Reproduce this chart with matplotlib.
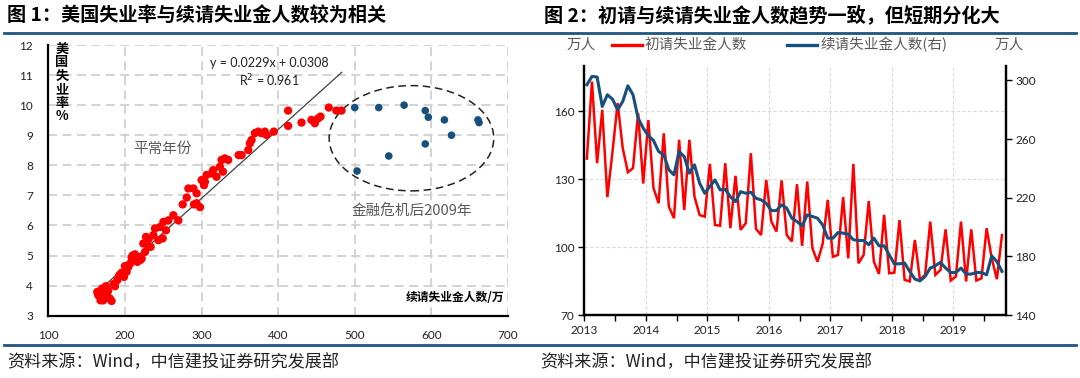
import matplotlib
matplotlib.use("Agg")
import matplotlib.pyplot as plt
from matplotlib.patches import Ellipse
from matplotlib.lines import Line2D
import numpy as np

# ---------------- data ----------------
# Figure 1: continuing claims (万人) vs unemployment rate (%)
normal_x = [163.9, 165.2, 168.2, 171.7, 172.5, 175.1, 176.9, 180.4, 182.6, 178.2,
            170.0, 185.0, 187.0, 190.0, 192.7, 195.7, 198.7, 200.0, 202.2, 204.4,
            206.6, 208.8, 210.0, 211.0, 213.2, 216.2, 218.8, 220.0, 221.9, 224.0,
            226.2, 227.5, 230.6, 231.0, 233.6, 237.1, 239.3, 243.6, 246.0, 249.3,
            250.2, 253.6, 256.7, 263.2, 269.7, 275.4, 280.7, 282.8, 289.4, 290.2,
            293.6, 293.6, 298.0, 300.1, 303.2, 304.4, 306.6, 313.1, 315.2, 319.6,
            323.9, 326.2, 328.0, 330.5, 334.8, 348.4, 352.3, 361.0, 363.1, 365.3,
            369.6, 373.9, 378.3, 382.6, 384.9, 394.4, 413.0, 413.0, 430.5, 443.5,
            447.9, 452.2, 455.3, 466.1, 476.1, 482.7]
normal_y = [3.79, 3.68, 3.51, 3.51, 3.73, 3.98, 3.65, 3.57, 3.49, 3.83,
            3.90, 4.05, 3.98, 4.18, 4.35, 4.43, 4.29, 4.65, 4.46, 4.62,
            4.73, 4.93, 5.00, 4.84, 5.04, 4.79, 4.95, 4.85, 4.90, 5.40,
            5.12, 5.62, 5.29, 5.55, 5.29, 5.68, 5.90, 5.51, 5.95, 5.57,
            6.12, 5.84, 6.17, 6.34, 6.17, 6.70, 6.93, 7.23, 7.23, 6.70,
            7.07, 6.74, 6.61, 7.51, 7.34, 7.45, 7.68, 7.73, 7.84, 7.62,
            7.95, 8.18, 7.79, 8.23, 8.18, 8.34, 8.34, 8.51, 8.73, 8.84,
            9.07, 9.12, 9.07, 9.12, 9.01, 9.12, 9.82, 9.31, 9.42, 9.51,
            9.40, 9.56, 9.62, 9.92, 9.82, 9.82]
crisis_x = [500.0, 531.3, 564.4, 592.0, 596.0, 617.0, 626.2, 592.0, 544.4, 503.0, 660.8, 662.2]
crisis_y = [9.92, 9.92, 10.00, 9.82, 9.60, 9.51, 9.00, 8.71, 8.31, 7.81, 9.51, 9.42]
fit_slope, fit_intercept = 0.0229, 0.0308
fit_range = [165, 483]

# Figure 2: monthly series Jan 2013 - Oct 2019
start_year = 2013
initial_claims = [139, 173, 137, 160.5, 122, 142, 163.5, 143.6, 133, 134.8, 159, 128,
                  156, 126, 119.3, 150.2, 117.8, 112.7, 147.3, 116.3, 147.3, 122.2, 114.1, 113.4,
                  136.7, 109.7, 109.4, 137, 108.3, 131.4, 107.6, 110.5, 141.4, 108, 105.3, 129.6,
                  111.2, 106.8, 129.4, 105.3, 102.4, 127.7, 100.5, 128.9, 99.5, 93.5, 101.3, 120.8,
                  95.7, 96.5, 122, 95, 136.7, 92.8, 96.5, 120.3, 93.5, 88.1, 114.2, 88.4,
                  88.7, 111.9, 85.5, 84.8, 103.1, 85.5, 87.7, 111.2, 87.7, 89.9, 107.8, 85.2,
                  87, 111.2, 84.8, 107.8, 85.2, 86.2, 108.3, 95, 85.8, 105.3]
continuing_claims = [297, 302.7, 302.3, 282.2, 290.2, 287.2, 279.9, 285.6, 296.3, 290.2, 274.3, 267.4,
                     262.2, 259, 251.5, 249.2, 239, 235.6, 251.5, 248, 236.7, 242.4, 229.9, 223,
                     227.6, 232.1, 225.3, 225.7, 220.7, 217.3, 224.1, 223, 223.7, 219.6, 218.5, 216.2,
                     211.2, 211.2, 215.1, 212.8, 206, 203.7, 200.8, 208.3, 207.2, 206, 201.5, 192.4,
                     192.4, 196.2, 195.8, 195.1, 191.3, 190.8, 190.8, 187.9, 192.4, 187.2, 187.2, 181,
                     174.9, 174.9, 175.4, 169.7, 164.5, 163.3, 166.3, 172, 173.6, 175.9, 172, 169,
                     169, 172, 167.9, 167.9, 169, 169, 167.4, 180.3, 176.5, 169.7]
years = [2013, 2014, 2015, 2016, 2017, 2018, 2019]
left_ticks2 = [70, 100, 130, 160]
right_ticks2 = [140, 180, 220, 260, 300]

# ---------------- style ----------------
W, H = 1080, 378
CJK = ['Noto Sans CJK SC', 'DejaVu Sans']
NUM = ['Lato', 'Noto Sans CJK SC', 'DejaVu Sans']
plt.rcParams['font.family'] = NUM
RED = '#FF0000'
BLUE = '#17507D'
RULE = '#1F5582'
GRAYTXT = '#595959'

fig = plt.figure(figsize=(W / 100, H / 100), dpi=100)

def fx(px):
    return px / W

def fy(py):
    return 1 - py / H

# title rules & titles
for yy in (32.5, 344.5):
    fig.add_artist(Line2D([fx(4), fx(1076)], [fy(yy), fy(yy)], color=RULE, lw=2.0))
fig.text(fx(7), fy(15), '图 1：美国失业率与续请失业金人数较为相关', family=CJK,
         fontsize=13.8, fontweight='bold', va='center', ha='left', color='black')
fig.text(fx(544), fy(15), '图 2：初请与续请失业金人数趋势一致，但短期分化大', family=CJK,
         fontsize=13.8, fontweight='bold', va='center', ha='left', color='black')
for xx in (7, 540):
    fig.text(fx(xx), fy(362), '资料来源：Wind，中信建投证券研究发展部', family=CJK,
             fontsize=12.3, va='center', ha='left', color='#222222')

# ---------------- Figure 1: scatter ----------------
ax1 = fig.add_axes([fx(48.3), fy(315.7), fx(508) - fx(48.3), fy(45) - fy(315.7)])
ax1.set_xlim(100, 700)
ax1.set_ylim(3, 12)
ax1.set_xticks(range(100, 701, 100))
ax1.set_yticks(range(3, 13))
ax1.grid(True, color='#D0D0D0', linestyle=(0, (5, 3)), linewidth=1.3)
ax1.set_axisbelow(True)
for s in ('top', 'right'):
    ax1.spines[s].set_visible(False)
for s in ('left', 'bottom'):
    ax1.spines[s].set_linewidth(1.6)
    ax1.spines[s].set_color('black')
ax1.tick_params(length=0, labelsize=8.5, colors='#222222')
ax1.tick_params(axis='y', pad=11)
ax1.tick_params(axis='x', pad=10)

xs = np.array(fit_range, dtype=float)
ax1.plot(xs, fit_slope * xs + fit_intercept, color='#404040', lw=0.9, zorder=3)
ax1.scatter(normal_x, normal_y, s=36, color=RED, edgecolors='none', zorder=4)
ax1.scatter(crisis_x, crisis_y, s=30, color=BLUE, edgecolors='none', zorder=4)
ax1.add_patch(Ellipse((574, 8.9), 214.8, 3.5, fill=False, edgecolor='#222222',
                      linestyle=(0, (5, 3)), lw=1.1, zorder=3))

ax1.text(389, 11.39, 'y = 0.0229x + 0.0308', fontsize=9, ha='center', va='center', color='#222222')
ax1.text(389, 10.8, 'R$^2$ = 0.961', fontsize=9, ha='center', va='center', color='#222222')
ax1.text(249.6, 8.54, '平常年份', family=CJK, fontsize=10.5, ha='center', va='center', color=GRAYTXT)
ax1.text(574, 6.49, '金融危机后2009年', family=CJK, fontsize=10.5, ha='center', va='center', color=GRAYTXT)
ax1.text(695, 3.62, '续请失业金人数/万', family=CJK, fontsize=8.5, fontweight='bold',
         ha='right', va='center', color='black')
fig.text(fx(62), fy(42), '美\n国\n失\n业\n率\n%', family=CJK, fontsize=9.5, fontweight='bold',
         ha='center', va='top', color='black', linespacing=0.95)

# ---------------- Figure 2: lines ----------------
ax2 = fig.add_axes([fx(584.3), fy(315), fx(1005.7) - fx(584.3), fy(65.7) - fy(315)])
tx = [start_year + (i + 0.5) / 12 for i in range(len(initial_claims))]
ax2.plot(tx, initial_claims, color=RED, lw=1.8, solid_joinstyle='miter')
ax2.set_xlim(2013.0, 2019.852)
ax2.set_ylim(70, 180)
ax2.set_yticks(left_ticks2)
ax2.set_xticks(years)
ax2.set_xticks([y + 0.5 for y in years], minor=True)
ax2.grid(True, axis='both', which='major', color='#D9D9D9', linestyle=(0, (3, 2)), linewidth=0.8)
ax2.set_axisbelow(True)
ax2.spines['top'].set_visible(False)
for s in ('left', 'bottom', 'right'):
    ax2.spines[s].set_linewidth(1.6)
    ax2.spines[s].set_color('black')
ax2.tick_params(axis='both', which='both', direction='out', length=4, width=1, colors='black',
                labelcolor='#222222', labelsize=8.5)
ax2.tick_params(axis='y', pad=3)

ax3 = ax2.twinx()
ax3.plot(tx, continuing_claims, color=BLUE, lw=2.2)
ax3.set_ylim(140, 310)
ax3.set_yticks(right_ticks2)
ax3.spines['top'].set_visible(False)
for s in ('left', 'bottom', 'right'):
    ax3.spines[s].set_linewidth(1.6)
    ax3.spines[s].set_color('black')
ax3.tick_params(axis='y', direction='out', length=4, width=1, colors='black',
                labelcolor='#222222', labelsize=8.5, pad=3)

# legend (manual)
ly = 45
fig.text(fx(581), fy(ly), '万人', family=CJK, fontsize=10.5, ha='center', va='center', color=GRAYTXT)
fig.add_artist(Line2D([fx(612), fx(642)], [fy(ly), fy(ly)], color=RED, lw=2.4))
fig.text(fx(645), fy(ly), '初请失业金人数', family=CJK, fontsize=10.5, ha='left', va='center', color=GRAYTXT)
fig.add_artist(Line2D([fx(787), fx(817)], [fy(ly), fy(ly)], color=BLUE, lw=2.4))
fig.text(fx(820), fy(ly), '续请失业金人数(右)', family=CJK, fontsize=10.5, ha='left', va='center', color=GRAYTXT)
fig.text(fx(1009), fy(ly), '万人', family=CJK, fontsize=10.5, ha='center', va='center', color=GRAYTXT)

fig.savefig('out.png', dpi=100)
